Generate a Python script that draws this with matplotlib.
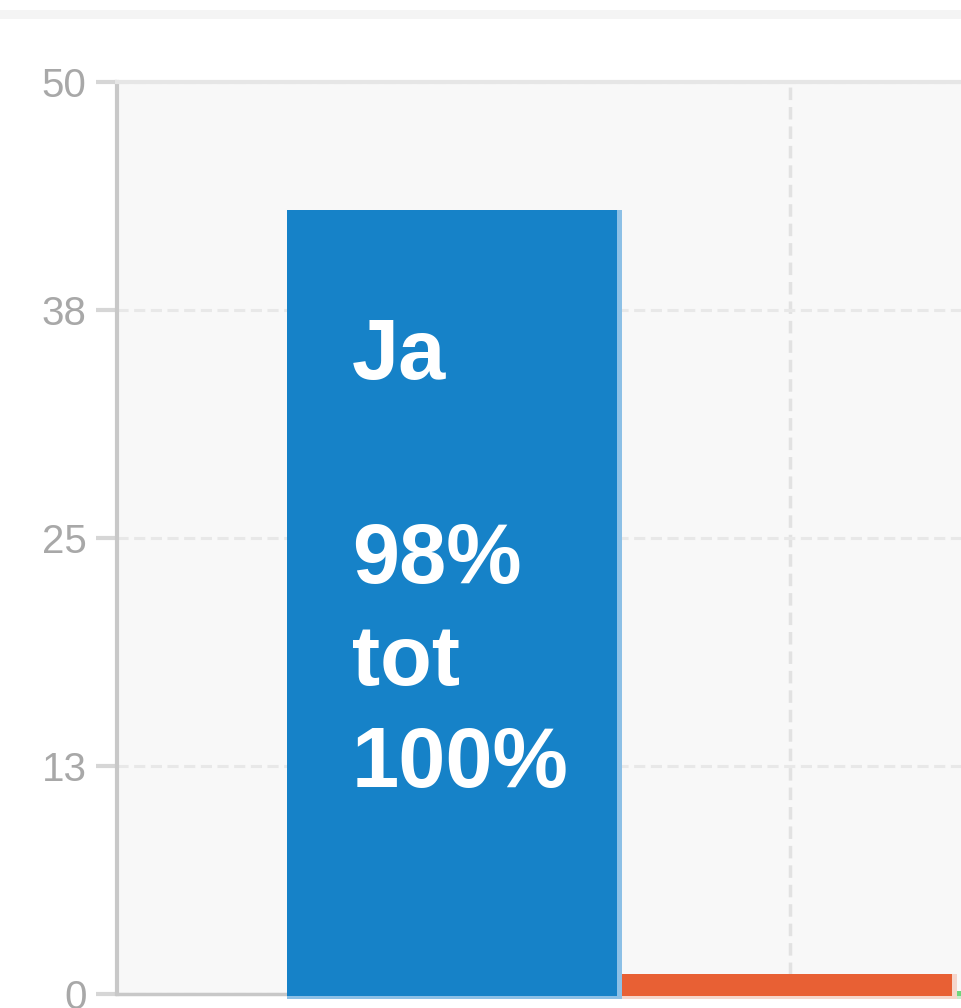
import matplotlib
matplotlib.use("Agg")
import matplotlib.pyplot as plt
from matplotlib.patches import Rectangle

plt.rcParams['font.family'] = ['Liberation Sans', 'DejaVu Sans']
plt.rcParams['lines.scale_dashes'] = False

# Data
categories = ["Ja", "Nee", "Anders"]
values = [43, 1.1, 0.15]
colors = ["#1682C8", "#E86034", "#6FD67C"]
shadow_colors = ["#8CC0E6", "#F5D6CC", "#C8ECCB"]
y_ticks = [0, 12.5, 25, 37.5, 50]
y_tick_labels = ["0", "13", "25", "38", "50"]
label_lines = ["Ja", "", "98%", "tot", "100%"]

W, H = 961, 1008
fig = plt.figure(figsize=(W / 100, H / 100), dpi=100)
fig.patch.set_facecolor("white")

# top grey band
fig.patches.append(Rectangle((0, 1 - 19 / H), 1, 9 / H, transform=fig.transFigure,
                             facecolor="#F4F4F4", edgecolor="none", zorder=0))

ax_left, ax_right = 117, 961
ax_top, ax_bottom = 82, 994
ax = fig.add_axes([ax_left / W, (H - ax_bottom) / H,
                   (ax_right - ax_left) / W, (ax_bottom - ax_top) / H])
ax.set_facecolor("#F8F8F8")

pitch = 335.0
x0 = 454.5

xs = list(range(len(categories)))
# light "shadow" bars (right/bottom edges)
ax.bar(xs, [v + 0.3 for v in values], width=1.0, bottom=-0.3, color=shadow_colors,
       align="center", zorder=3, clip_on=False, linewidth=0)
# solid bars
ax.bar([x - 0.0075 for x in xs], [v + 0.1 for v in values], width=0.985, bottom=-0.1,
       color=colors, zorder=4, clip_on=False, linewidth=0)

# grid
ax.set_yticks(y_ticks)
ax.set_yticklabels(y_tick_labels)
ax.set_xticks([1])
ax.set_xticklabels([""])
ax.grid(True, axis="y", color="#E8E8E8", linewidth=2.2, linestyle=(0, (8, 4)), zorder=1)
ax.grid(True, axis="x", color="#E2E2E2", linewidth=2.5, linestyle=(0, (9, 5)), zorder=1)
ax.set_axisbelow(True)

ax.set_xlim((ax_left - x0) / pitch, (ax_right - x0) / pitch)
ax.set_ylim(0, 50)

ax.tick_params(axis="y", length=15, width=3, color="#D6D6D6", pad=7,
               labelsize=29, labelcolor="#A8A8A8")
ax.tick_params(axis="x", length=0)

ax.spines["right"].set_visible(False)
ax.spines["left"].set_color("#C8C8C8")
ax.spines["left"].set_linewidth(3)
ax.spines["bottom"].set_color("#C8C8C8")
ax.spines["bottom"].set_linewidth(2.5)
ax.spines["top"].set_color("#E6E6E6")
ax.spines["top"].set_linewidth(3)

# label inside the blue bar
px_per_unit = (ax_bottom - ax_top) / 50.0
base_y = (ax_bottom - 787) / px_per_unit
line_step = 102.0 / px_per_unit
tx = (352 - x0) / pitch
n = len(label_lines)
for i, line in enumerate(label_lines):
    if not line:
        continue
    ax.text(tx, base_y + (n - 1 - i) * line_step, line, color="white",
            fontsize=61, fontweight="bold", ha="left", va="baseline", zorder=6)

fig.savefig("out.png", dpi=100, facecolor="white")
